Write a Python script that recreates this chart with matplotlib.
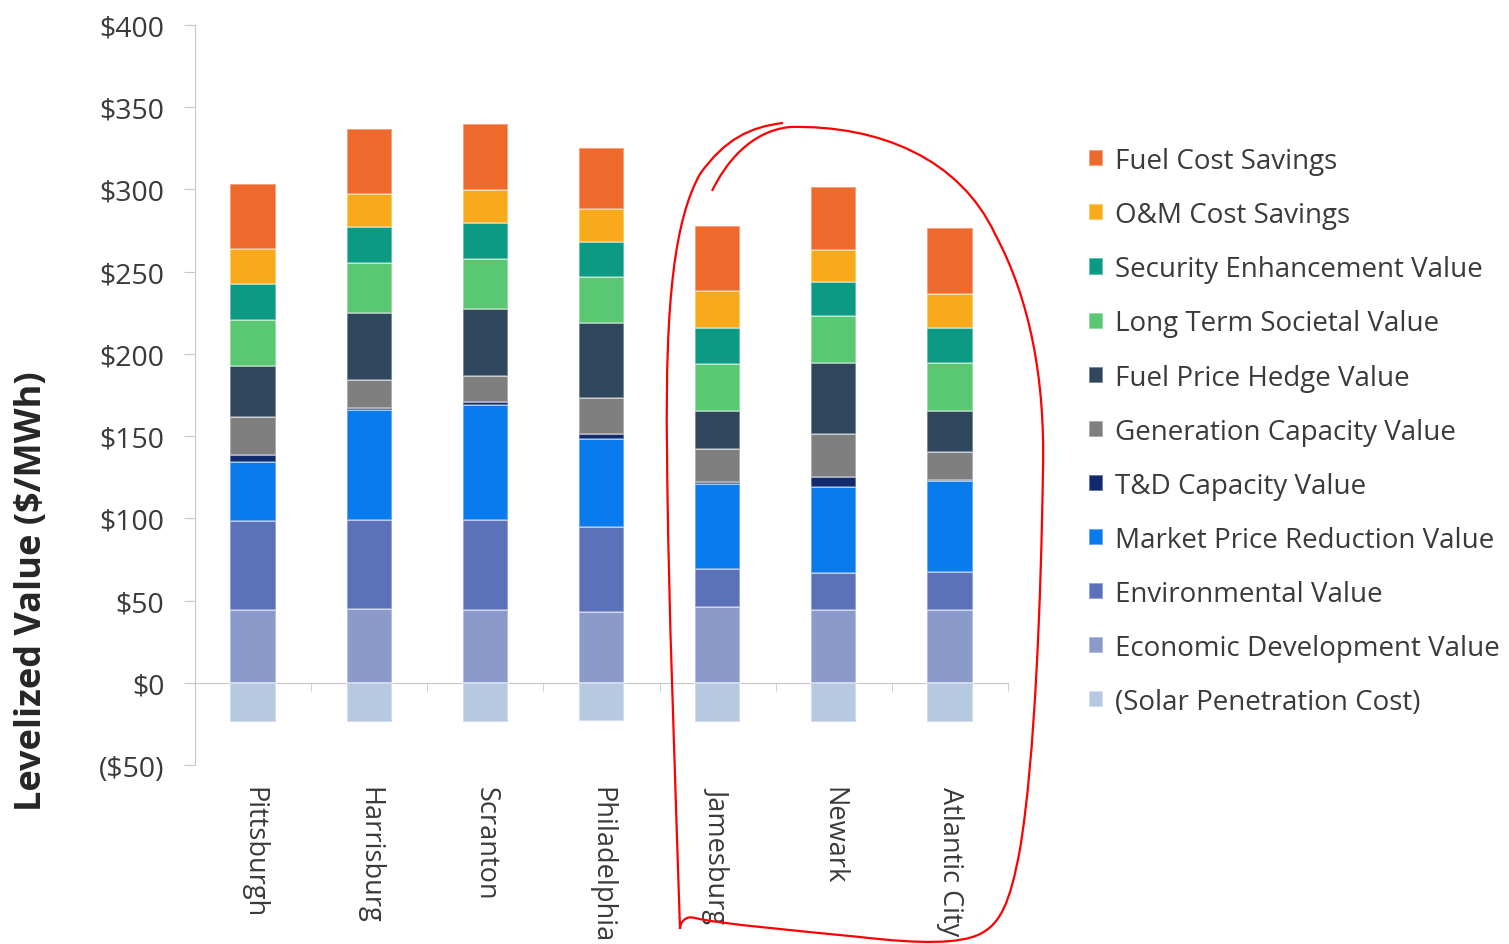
import numpy as np
import matplotlib
matplotlib.use('Agg')
import matplotlib.pyplot as plt
from matplotlib.path import Path
from matplotlib.patches import PathPatch
from matplotlib.transforms import Affine2D

plt.rcParams['font.family'] = ['Open Sans', 'DejaVu Sans']

cities = ['Pittsburgh', 'Harrisburg', 'Scranton', 'Philadelphia',
          'Jamesburg', 'Newark', 'Atlantic City']

# value components in $/MWh, stacked from the bottom up
solar_cost = [-24, -24, -24, -23, -24, -24, -24]
econ_dev = [44.5, 45, 44.5, 43, 46, 44.5, 44.5]
environmental = [54, 54, 54.5, 52, 23, 22.5, 23]
market_price = [35.5, 67, 70, 53, 52, 52, 55]
td_capacity = [4.5, 1, 1.5, 3, 1, 6, 1]
gen_capacity = [23, 17, 16, 22, 20, 26, 17]
fuel_hedge = [31, 41, 41, 46, 23, 43.5, 25]
long_term = [28, 30, 30, 28, 29, 28.5, 29]
security = [22, 22, 22, 21, 22, 21, 21]
om_savings = [21, 20, 20, 20, 22, 19, 21]
fuel_savings = [40, 40, 40, 37, 40, 38.5, 40]

positive = [
    ('Economic Development Value', econ_dev, '#8b9acb'),
    ('Environmental Value', environmental, '#5b71b9'),
    ('Market Price Reduction Value', market_price, '#0a7bec'),
    ('T&D Capacity Value', td_capacity, '#132a6e'),
    ('Generation Capacity Value', gen_capacity, '#7f7f7f'),
    ('Fuel Price Hedge Value', fuel_hedge, '#2f475c'),
    ('Long Term Societal Value', long_term, '#5ac873'),
    ('Security Enhancement Value', security, '#0d9a84'),
    ('O&M Cost Savings', om_savings, '#f9aa1a'),
    ('Fuel Cost Savings', fuel_savings, '#ee6a2c'),
]

fig = plt.figure(figsize=(15.09, 9.45), dpi=100)
ax = fig.add_axes([0.1292, 0.1894, 0.5388, 0.7831])

x = np.arange(len(cities))
w = 0.39
sep = (1, 1, 1, 0.45)

handles = {}
bottom = np.zeros(len(cities))
for name, vals, col in positive:
    vals = np.array(vals, dtype=float)
    handles[name] = ax.bar(x, vals, w, bottom=bottom, color=col,
                           edgecolor=sep, linewidth=1.2, zorder=3)
    bottom += vals
handles['(Solar Penetration Cost)'] = ax.bar(
    x, solar_cost, w, color='#b6c9e1', edgecolor=sep, linewidth=1.2, zorder=3)

ax.set_xlim(-0.5, len(cities) - 0.5)
ax.set_ylim(-50, 400)
ax.set_yticks(np.arange(-50, 401, 50))
ax.set_yticklabels(['($50)' if v < 0 else f'${v}' for v in range(-50, 401, 50)])

axis_col = '#c8c8c8'
for s in ['top', 'right']:
    ax.spines[s].set_visible(False)
ax.spines['left'].set_color(axis_col)
ax.spines['bottom'].set_position(('data', 0))
ax.spines['bottom'].set_color(axis_col)

ax.set_xticks(x)
ax.set_xticklabels(cities, rotation=270, va='top', ha='center')
ax.set_xticks(np.arange(-0.5, len(cities), 1.0), minor=True)
ax.tick_params(axis='x', which='major', length=0, pad=74, labelsize=19.5,
               labelcolor='#3a3a3a')
ax.tick_params(axis='x', which='minor', length=6, color=axis_col,
               direction='out')
ax.tick_params(axis='y', length=8, color=axis_col, labelsize=20.5,
               labelcolor='#3a3a3a', pad=14)

fig.text(32 / 1509, 1 - 591 / 945, 'Levelized Value ($/MWh)', rotation=90,
         ha='center', va='center', fontsize=26, fontweight='bold',
         color='#262626')

order = [n for n, _, _ in positive][::-1] + ['(Solar Penetration Cost)']
fig.legend([handles[n] for n in order], order, loc='upper left',
           bbox_to_anchor=(0.714, 0.855), frameon=False, fontsize=20,
           labelcolor='#3a3a3a', handlelength=0.52, handleheight=0.52,
           handletextpad=0.45, labelspacing=0.94, borderaxespad=0)

# red loop drawn around the three New Jersey cities
loop = [
    ((712, 192), Path.MOVETO),
    ((725, 165), Path.CURVE4), ((750, 132), Path.CURVE4), ((790, 128), Path.CURVE4),
    ((880, 126), Path.CURVE4), ((960, 160), Path.CURVE4), ((995, 235), Path.CURVE4),
    ((1030, 300), Path.CURVE4), ((1045, 380), Path.CURVE4), ((1043, 470), Path.CURVE4),
    ((1041, 600), Path.CURVE4), ((1035, 760), Path.CURVE4), ((1020, 850), Path.CURVE4),
    ((1010, 905), Path.CURVE4), ((1000, 925), Path.CURVE4), ((980, 935), Path.CURVE4),
    ((960, 945), Path.CURVE4), ((920, 945), Path.CURVE4), ((860, 938), Path.CURVE4),
    ((800, 932), Path.CURVE4), ((720, 925), Path.CURVE4), ((695, 919), Path.CURVE4),
    ((685, 916), Path.CURVE4), ((680, 924), Path.CURVE4), ((680, 930), Path.CURVE4),
    ((676, 800), Path.CURVE4), ((668, 600), Path.CURVE4), ((667, 450), Path.CURVE4),
    ((665, 300), Path.CURVE4), ((675, 220), Path.CURVE4), ((700, 175), Path.CURVE4),
    ((725, 140), Path.CURVE4), ((750, 128), Path.CURVE4), ((783, 124), Path.CURVE4),
]
verts, codes = zip(*loop)
px = Affine2D().scale(1 / 1509, -1 / 945).translate(0, 1) + fig.transFigure
fig.patches.append(PathPatch(Path(verts, codes), facecolor='none',
                             edgecolor='#ff0000', linewidth=1.6,
                             transform=px, zorder=10))

fig.savefig('out.png', dpi=100, facecolor='white')
